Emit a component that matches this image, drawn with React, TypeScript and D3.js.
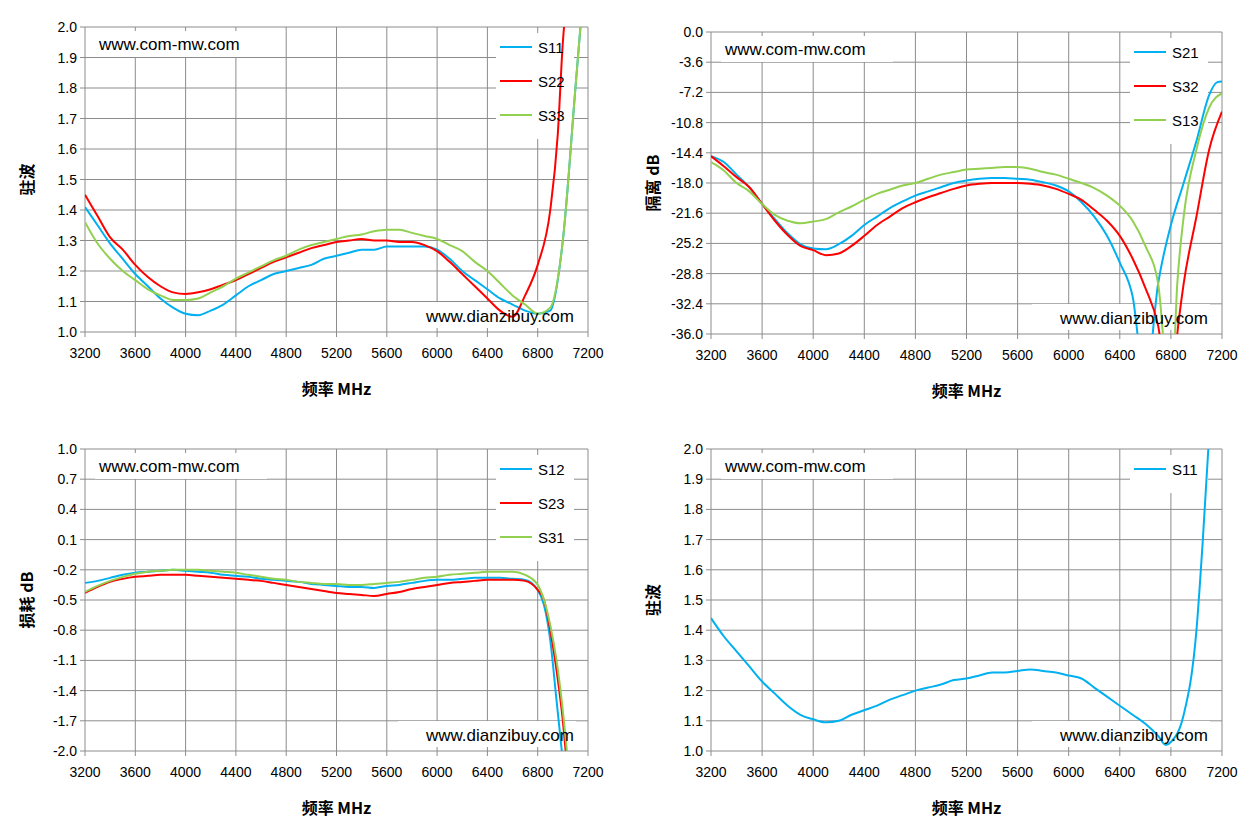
import React, { useEffect, useRef } from 'react';
import * as d3 from 'd3';

const freqs = [3200,3300,3400,3500,3600,3700,3800,3900,4000,4100,4200,4300,4400,4500,4600,4700,4800,4900,5000,5100,5200,5300,5400,5500,5600,5700,5800,5900,6000,6100,6200,6300,6400,6500,6600,6700,6800];
const xTicks = [3200,3600,4000,4400,4800,5200,5600,6000,6400,6800,7200];

// panel 1: VSWR
const vswrS11 = [1.41,1.35,1.29,1.24,1.19,1.15,1.11,1.08,1.06,1.055,1.07,1.09,1.12,1.15,1.17,1.19,1.2,1.21,1.22,1.24,1.25,1.26,1.27,1.27,1.28,1.28,1.28,1.28,1.27,1.24,1.2,1.17,1.14,1.11,1.09,1.07,1.06];
const vswrS11Tail = [[6900,1.07],[7000,1.3],[7100,1.8],[7150,2.05]];
const vswrS22 = [1.45,1.38,1.31,1.27,1.22,1.18,1.15,1.13,1.125,1.13,1.14,1.155,1.17,1.19,1.21,1.23,1.245,1.26,1.275,1.285,1.295,1.3,1.305,1.3,1.3,1.295,1.295,1.285,1.265,1.23,1.19,1.15,1.11,1.07,1.05,1.12,1.22];
const vswrS22Tail = [[6900,1.4],[6960,1.65],[7000,1.95],[7020,2.05]];
const vswrS33 = [1.36,1.29,1.24,1.2,1.17,1.14,1.12,1.105,1.105,1.11,1.13,1.15,1.175,1.195,1.215,1.235,1.25,1.27,1.285,1.295,1.305,1.315,1.32,1.33,1.335,1.335,1.325,1.315,1.305,1.285,1.265,1.23,1.2,1.16,1.12,1.09,1.06];
const vswrS33Tail = [[6900,1.08],[7000,1.3],[7100,1.8],[7150,2.05]];

// panel 2: isolation dB
const isoS21 = [-14.8,-15.5,-17,-18.5,-20.5,-22.3,-24,-25.3,-25.8,-25.9,-25.3,-24.3,-23,-22,-21,-20.2,-19.5,-19,-18.5,-18,-17.7,-17.5,-17.4,-17.4,-17.5,-17.6,-17.9,-18.3,-19,-20.3,-22,-24.3,-27.5,-31.5,-42,-30,-23];
const isoS21Tail = [[6900,-18],[7000,-13],[7100,-7.5],[7160,-6],[7200,-5.9]];
const isoS32 = [-14.8,-16,-17.3,-18.5,-20.5,-22.5,-24.2,-25.5,-26,-26.6,-26.4,-25.5,-24.3,-23,-22,-21,-20.3,-19.7,-19.2,-18.7,-18.3,-18.1,-18,-18,-18,-18.1,-18.3,-18.7,-19.3,-20,-21.2,-22.5,-24.3,-27,-30.5,-35,-45];
const isoS32Tail = [[6850,-36],[6900,-30],[7000,-22],[7100,-14],[7200,-9.5]];
const isoS13 = [-15.5,-16.5,-18,-19,-20.5,-21.8,-22.5,-22.8,-22.6,-22.3,-21.5,-20.8,-20,-19.3,-18.8,-18.3,-18,-17.5,-17,-16.7,-16.4,-16.3,-16.2,-16.1,-16.1,-16.3,-16.7,-17,-17.5,-18,-18.6,-19.5,-20.7,-22.5,-25.5,-30,-45];
const isoS13Tail = [[6850,-30],[6900,-22],[7000,-14],[7100,-9],[7200,-7.3]];

// panel 3: insertion loss dB
const lossS12 = [-0.33,-0.31,-0.28,-0.25,-0.23,-0.22,-0.21,-0.2,-0.21,-0.22,-0.23,-0.25,-0.26,-0.27,-0.29,-0.3,-0.31,-0.32,-0.34,-0.35,-0.36,-0.37,-0.37,-0.38,-0.36,-0.35,-0.33,-0.31,-0.3,-0.3,-0.29,-0.28,-0.28,-0.28,-0.29,-0.3,-0.4];
const lossS12Tail = [[6850,-0.55],[6900,-0.9],[6950,-1.5],[7000,-2.1]];
const lossS23 = [-0.43,-0.37,-0.32,-0.29,-0.27,-0.26,-0.25,-0.25,-0.25,-0.26,-0.27,-0.28,-0.29,-0.3,-0.31,-0.33,-0.35,-0.37,-0.39,-0.41,-0.43,-0.44,-0.45,-0.46,-0.44,-0.42,-0.39,-0.37,-0.35,-0.33,-0.32,-0.31,-0.3,-0.3,-0.3,-0.31,-0.4];
const lossS23Tail = [[6850,-0.5],[6900,-0.8],[6950,-1.2],[7000,-1.7],[7030,-2.1]];
const lossS31 = [-0.42,-0.36,-0.31,-0.27,-0.24,-0.22,-0.21,-0.2,-0.2,-0.2,-0.21,-0.22,-0.23,-0.25,-0.27,-0.29,-0.3,-0.32,-0.33,-0.34,-0.34,-0.35,-0.35,-0.34,-0.33,-0.32,-0.3,-0.28,-0.27,-0.25,-0.24,-0.23,-0.22,-0.22,-0.22,-0.25,-0.35];
const lossS31Tail = [[6850,-0.5],[6900,-0.75],[6950,-1.1],[7000,-1.6],[7040,-2.1]];

// panel 4: VSWR S11
const vswr2S11 = [1.44,1.38,1.33,1.28,1.23,1.19,1.15,1.12,1.105,1.095,1.1,1.12,1.135,1.15,1.17,1.185,1.2,1.21,1.22,1.235,1.24,1.25,1.26,1.26,1.265,1.27,1.265,1.26,1.25,1.24,1.21,1.18,1.15,1.12,1.09,1.05,1.03];
const vswr2S11Tail = [[6760,1.02],[6800,1.03],[6900,1.12],[7000,1.4],[7050,1.7],[7100,2.05]];

const BLUE = '#00b0f0', RED = '#ff0000', GREEN = '#92d050';
const join = (v: number[], tail: number[][]) => [...freqs.map((f, i) => [f, v[i]]).filter(d => d[0] < tail[0][0]), ...tail];

interface Series { name: string; color: string; pts: number[][] }
interface PanelProps {
  left: number; top: number; w: number; h: number;
  yDomain: [number, number]; yTicks: number[]; yFmt: (v: number) => string;
  yLabel: string; series: Series[]; id: string;
}

const Panel: React.FC<PanelProps> = ({ left, top, w, h, yDomain, yTicks, yFmt, yLabel, series, id }) => {
  const ref = useRef<SVGGElement>(null);
  useEffect(() => {
    const g = d3.select(ref.current!);
    g.selectAll('*').remove();
    const x = d3.scaleLinear().domain([3200, 7200]).range([0, w]);
    const y = d3.scaleLinear().domain(yDomain).range([h, 0]);
    g.append('clipPath').attr('id', id).append('rect').attr('width', w).attr('height', h);
    g.selectAll('.vg').data(xTicks).enter().append('line')
      .attr('x1', d => x(d)).attr('x2', d => x(d)).attr('y1', 0).attr('y2', h + 5).attr('stroke', '#8c8c8c');
    g.selectAll('.hg').data(yTicks).enter().append('line')
      .attr('x1', -5).attr('x2', w).attr('y1', d => y(d)).attr('y2', d => y(d)).attr('stroke', '#8c8c8c');
    g.selectAll('.xt').data(xTicks).enter().append('text')
      .attr('x', d => x(d)).attr('y', h + 26).attr('text-anchor', 'middle').attr('font-size', 14).text(d => d);
    g.selectAll('.yt').data(yTicks).enter().append('text')
      .attr('x', -8).attr('y', d => y(d) + 5).attr('text-anchor', 'end').attr('font-size', 14).text(d => yFmt(d));
    // backgrounds for legend and watermarks (cover grid only)
    const lw = 78;
    g.append('rect').attr('x', w - lw - 14).attr('y', 6).attr('width', lw).attr('height', series.length * 34 + 4).attr('fill', '#fff');
    g.append('rect').attr('x', 10).attr('y', 4).attr('width', 172).attr('height', 26).attr('fill', '#fff');
    g.append('rect').attr('x', w - 190).attr('y', h - 30).attr('width', 178).attr('height', 26).attr('fill', '#fff');
    const line = d3.line<number[]>().x(d => x(d[0])).y(d => y(d[1])).curve(d3.curveMonotoneX);
    series.forEach(s => {
      g.append('path').attr('d', line(s.pts)!).attr('fill', 'none').attr('stroke', s.color)
        .attr('stroke-width', 2).attr('clip-path', `url(#${id})`);
    });
    const lg = g.append('g').attr('transform', `translate(${w - lw - 14},8)`);
    series.forEach((s, i) => {
      lg.append('line').attr('x1', 4).attr('x2', 36).attr('y1', 12 + i * 34).attr('y2', 12 + i * 34)
        .attr('stroke', s.color).attr('stroke-width', 2);
      lg.append('text').attr('x', 42).attr('y', 18 + i * 34).attr('font-size', 15).text(s.name);
    });
    g.append('text').attr('x', 14).attr('y', 23).attr('font-size', 17).text('www.com-mw.com');
    g.append('text').attr('x', w - 14).attr('y', h - 10).attr('text-anchor', 'end').attr('font-size', 17).text('www.dianzibuy.com');
    g.append('text').attr('x', w / 2).attr('y', h + 63).attr('text-anchor', 'middle')
      .attr('font-size', 16).attr('font-weight', 'bold').attr('font-family', "'Noto Sans CJK SC'").text('频率 MHz');
    g.append('text').attr('transform', `translate(-52,${h / 2}) rotate(-90)`).attr('text-anchor', 'middle')
      .attr('font-size', 16).attr('font-weight', 'bold').attr('font-family', "'Noto Sans CJK SC'").text(yLabel);
  }, []);
  return <g ref={ref} transform={`translate(${left},${top})`} />;
};

const rng = (a: number, b: number, s: number) => d3.range(0, Math.round((b - a) / s) + 1).map(i => +(a + i * s).toFixed(2));

export default function App() {
  return (
    <svg width={1253} height={835} style={{ position: 'absolute', left: 0, top: 0, fontFamily: "'Liberation Sans', Arial, sans-serif", background: '#fff' }}>
      <Panel id="c1" left={85} top={27} w={503} h={305} yDomain={[1, 2]} yTicks={rng(1, 2, 0.1)} yFmt={d => d.toFixed(1)} yLabel="驻波"
        series={[{ name: 'S11', color: BLUE, pts: join(vswrS11, vswrS11Tail) }, { name: 'S22', color: RED, pts: join(vswrS22, vswrS22Tail) }, { name: 'S33', color: GREEN, pts: join(vswrS33, vswrS33Tail) }]} />
      <Panel id="c2" left={711} top={32} w={511} h={302} yDomain={[-36, 0]} yTicks={rng(-36, 0, 3.6)} yFmt={d => d.toFixed(1)} yLabel="隔离 dB"
        series={[{ name: 'S21', color: BLUE, pts: join(isoS21, isoS21Tail) }, { name: 'S32', color: RED, pts: join(isoS32, isoS32Tail) }, { name: 'S13', color: GREEN, pts: join(isoS13, isoS13Tail) }]} />
      <Panel id="c3" left={85} top={449} w={503} h={302} yDomain={[-2, 1]} yTicks={rng(-2, 1, 0.3)} yFmt={d => d.toFixed(1)} yLabel="损耗 dB"
        series={[{ name: 'S12', color: BLUE, pts: join(lossS12, lossS12Tail) }, { name: 'S23', color: RED, pts: join(lossS23, lossS23Tail) }, { name: 'S31', color: GREEN, pts: join(lossS31, lossS31Tail) }]} />
      <Panel id="c4" left={711} top={449} w={511} h={302} yDomain={[1, 2]} yTicks={rng(1, 2, 0.1)} yFmt={d => d.toFixed(1)} yLabel="驻波"
        series={[{ name: 'S11', color: BLUE, pts: join(vswr2S11, vswr2S11Tail) }]} />
    </svg>
  );
}
